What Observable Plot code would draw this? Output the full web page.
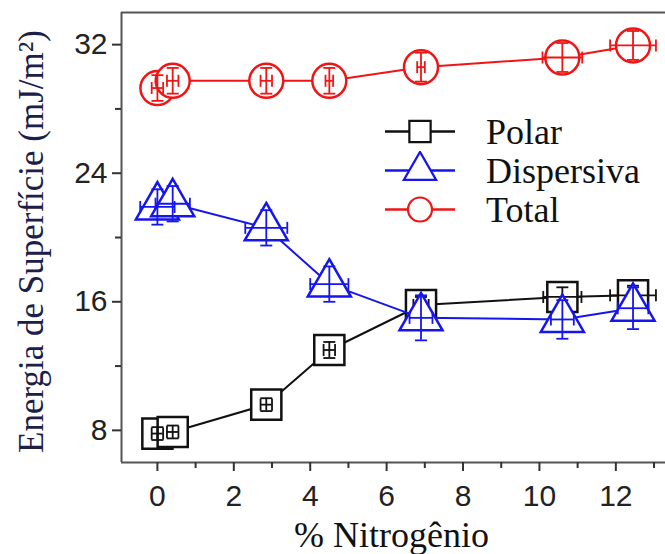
<!DOCTYPE html>
<html>
<head>
<meta charset="utf-8">
<script src="https://cdn.jsdelivr.net/npm/d3@7"></script>
<script src="https://cdn.jsdelivr.net/npm/@observablehq/plot@0.6"></script>
<style>
  body { margin: 0; background: #fff; }
  #wrap { position: relative; width: 665px; height: 554px; overflow: hidden; }
  #legend { position: absolute; left: 382px; top: 112px; font-family: "Liberation Serif", serif; font-size: 36px; color: #111; }
  #legend .row { display: flex; align-items: center; height: 39px; }
  #legend svg { width: 76px; height: 39px; margin-right: 28px; }
  g[aria-label="axis-title"] text { font-family: "Liberation Serif", serif; }
</style>
</head>
<body>
<div id="wrap"><div id="legend"></div></div>
<script>
// ---- data ----
const nitrogen   = [0, 0.4, 2.85, 4.5, 6.9, 10.6, 12.45];
const polar      = [7.8, 7.9, 9.6, 13.0, 15.8, 16.3, 16.4];
const dispersiva = [21.9, 22.1, 20.6, 17.1, 15.0, 14.9, 15.6];
const total      = [29.3, 29.75, 29.75, 29.75, 30.6, 31.2, 31.95];
const polarXErr  = [0.15, 0.15, 0.15, 0.15, 0.2, 0.5, 0.6];
const polarYErr  = [0.4, 0.4, 0.4, 0.5, 0.5, 0.6, 0.6];
const dispXErr   = [0.45, 0.45, 0.55, 0.5, 0.3, 0.3, 0.4];
const dispYErr   = [1.1, 1.1, 1.1, 1.1, 1.4, 1.2, 1.3];
const totalXErr  = [0.15, 0.15, 0.15, 0.1, 0.1, 0.52, 0.6];
const totalYErr  = [0.8, 0.8, 0.8, 0.8, 0.9, 0.9, 0.9];
const seriesNames = ["Polar", "Dispersiva", "Total"];
const xTicksMajor = [0, 2, 4, 6, 8, 10, 12];
const xTicksMinor = [1, 3, 5, 7, 9, 11, 13];
const yTicksMajor = [8, 16, 24, 32];
const yTicksMinor = [12, 20, 28];
const xLabel = "% Nitrogênio";
const yLabel = "Energia de Superfície (mJ/m²)";

const xDomain = [-0.94, 13.3];
const yDomain = [6, 34];

const vline = {draw(ctx, size) { const r = Math.sqrt(size / Math.PI); ctx.moveTo(0, -r); ctx.lineTo(0, r); }};
const hline = {draw(ctx, size) { const r = Math.sqrt(size / Math.PI); ctx.moveTo(-r, 0); ctx.lineTo(r, 0); }};

const styles = {
  Polar:      {color: "#111111", symbol: "square",   r: 17, values: polar, xe: polarXErr, ye: polarYErr},
  Dispersiva: {color: "#1515f0", symbol: "triangle", r: 16, values: dispersiva, xe: dispXErr, ye: dispYErr},
  Total:      {color: "#f01515", symbol: "circle",   r: 17, values: total, xe: totalXErr, ye: totalYErr}
};

function seriesMarks(name) {
  const s = styles[name];
  const rows = nitrogen.map((x, i) => ({x, y: s.values[i], xe: s.xe[i], ye: s.ye[i]}));
  return [
    Plot.line(rows, {x: "x", y: "y", stroke: s.color, strokeWidth: 2}),
    Plot.dot(rows, {x: "x", y: "y", symbol: s.symbol, r: s.r, fill: "white", stroke: s.color, strokeWidth: 2.5}),
    Plot.ruleY(rows, {x1: d => d.x - d.xe, x2: d => d.x + d.xe, y: "y", stroke: s.color, strokeWidth: 1.8}),
    Plot.ruleX(rows, {x: "x", y1: d => d.y - d.ye, y2: d => d.y + d.ye, stroke: s.color, strokeWidth: 1.8}),
    Plot.dot(rows, {x: d => d.x - d.xe, y: "y", symbol: vline, r: 6, stroke: s.color, strokeWidth: 1.8}),
    Plot.dot(rows, {x: d => d.x + d.xe, y: "y", symbol: vline, r: 6, stroke: s.color, strokeWidth: 1.8}),
    Plot.dot(rows, {x: "x", y: d => d.y - d.ye, symbol: hline, r: 6, stroke: s.color, strokeWidth: 1.8}),
    Plot.dot(rows, {x: "x", y: d => d.y + d.ye, symbol: hline, r: 6, stroke: s.color, strokeWidth: 1.8})
  ];
}

const tickFont = {fontFamily: "Liberation Sans, Arial, sans-serif", fontSize: 30, fill: "#222"};

const chart = Plot.plot({
  width: 665,
  height: 554,
  marginLeft: 121,
  marginRight: 0,
  marginTop: 12,
  marginBottom: 92,
  style: {fontFamily: "Liberation Sans, Arial, sans-serif", fontSize: "30px", background: "white", color: "#222"},
  x: {domain: xDomain},
  y: {domain: yDomain},
  marks: [
    Plot.ruleY([yDomain[1]], {stroke: "#555", strokeWidth: 2}),
    Plot.ruleY([yDomain[0]], {stroke: "#555", strokeWidth: 2}),
    Plot.ruleX([xDomain[0]], {stroke: "#555", strokeWidth: 2}),
    Plot.axisX({ticks: xTicksMinor, tickSize: 6, tickFormat: () => "", stroke: "#333", strokeWidth: 2, label: null}),
    Plot.axisX({ticks: xTicksMajor, tickSize: 9, tickPadding: 13, stroke: "#333", strokeWidth: 2, label: null, ...tickFont}),
    Plot.axisY({ticks: yTicksMinor, tickSize: 6, tickFormat: () => "", stroke: "#333", strokeWidth: 2, label: null}),
    Plot.axisY({ticks: yTicksMajor, tickSize: 9, tickPadding: 5, stroke: "#333", strokeWidth: 2, label: null, ...tickFont}),
    ...seriesMarks("Total"),
    ...seriesMarks("Polar"),
    ...seriesMarks("Dispersiva"),
    Plot.text([xLabel], {frameAnchor: "bottom", dy: 73, dx: -2, textAnchor: "middle", lineAnchor: "middle", text: d => d,
      fontFamily: "Liberation Serif", fontSize: 36, fill: "#111", ariaLabel: "axis-title"}),
    Plot.text([yLabel], {frameAnchor: "left", dx: -90, dy: 4, rotate: -90, textAnchor: "middle", lineAnchor: "middle", text: d => d,
      fontFamily: "Liberation Serif", fontSize: 35, fill: "#1c2048", ariaLabel: "axis-title"})
  ]
});
document.getElementById("wrap").prepend(chart);
d3.select(chart).selectAll('g[aria-label="axis-title"]').style("font-family", '"Liberation Serif", serif');

// legend
const legend = d3.select("#legend");
for (const name of seriesNames) {
  const s = styles[name];
  const row = legend.append("div").attr("class", "row");
  const svg = row.append("svg").attr("viewBox", "0 0 76 39");
  svg.append("line").attr("x1", 3).attr("x2", 73).attr("y1", 19.5).attr("y2", 19.5).attr("stroke", s.color).attr("stroke-width", 2.5);
  const sym = d3.symbol().type(name === "Polar" ? d3.symbolSquare : name === "Dispersiva" ? d3.symbolTriangle : d3.symbolCircle).size(Math.PI * 12 * 12)();
  svg.append("path").attr("d", sym).attr("transform", "translate(38,19.5)").attr("fill", "white").attr("stroke", s.color).attr("stroke-width", 2.2);
  row.append("span").text(name);
}
</script>
</body>
</html>
